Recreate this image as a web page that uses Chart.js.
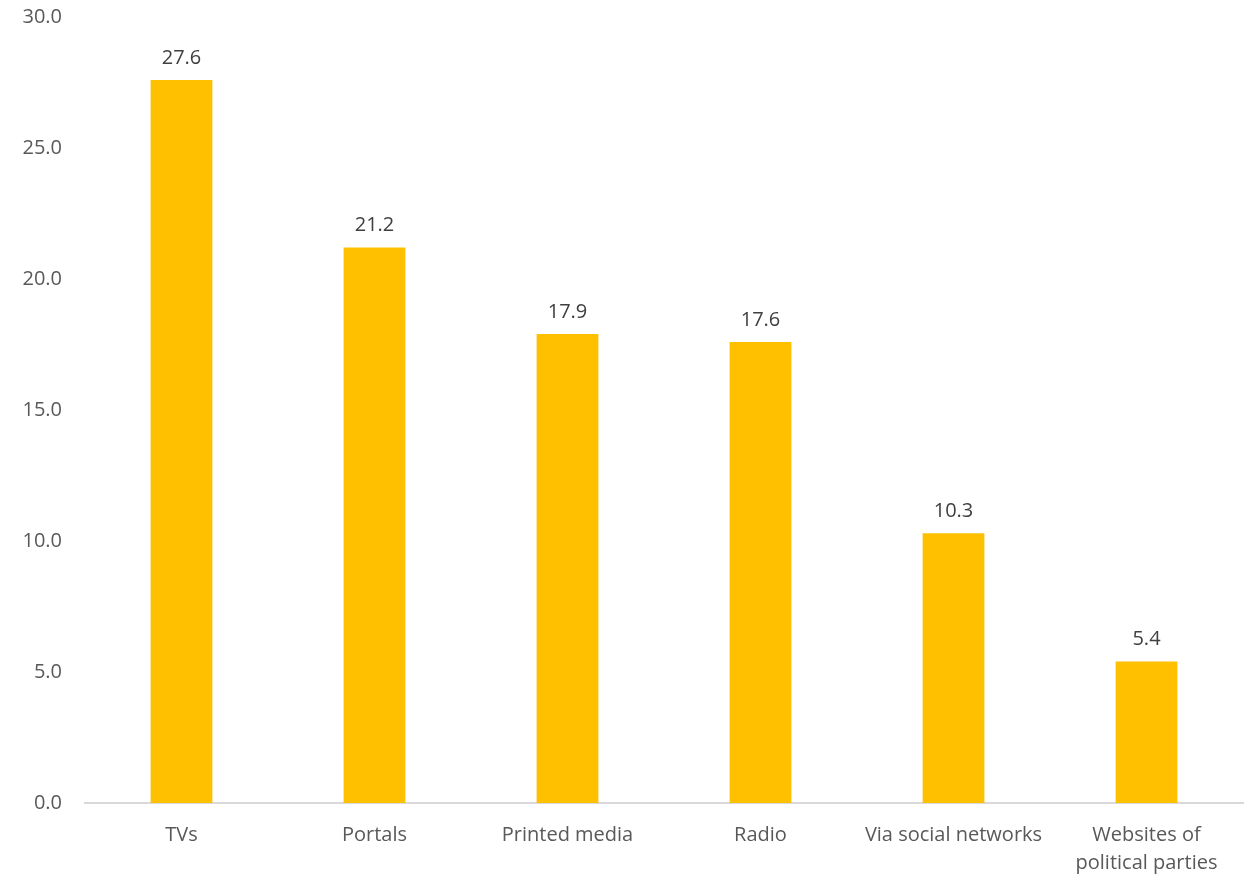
<!DOCTYPE html>
<html>
<head>
<meta charset="utf-8">
<script src="https://cdn.jsdelivr.net/npm/chart.js@4/dist/chart.umd.min.js"></script>
<style>
    html, body { margin: 0; padding: 0; background: #fff; }
    #wrap { width: 1258px; height: 878px; }
</style>
</head>
<body>
<div id="wrap"><canvas id="sources-chart" width="1258" height="878"></canvas></div>
<script>
const categories = ['TVs', 'Portals', 'Printed media', 'Radio', 'Via social networks', ['Websites of', 'political parties']];
const shares     = [27.6, 21.2, 17.9, 17.6, 10.3, 5.4];
const yTicks     = [0, 5, 10, 15, 20, 25, 30];

const fontFamily = "'Open Sans', Lato, sans-serif";

// draws the value above each bar
const valueLabels = {
    id: 'valueLabels',
    afterDatasetsDraw(chart) {
        const { ctx } = chart;
        const meta = chart.getDatasetMeta(0);
        ctx.save();
        ctx.font = `20px ${fontFamily}`;
        ctx.fillStyle = '#404040';
        ctx.textAlign = 'center';
        ctx.textBaseline = 'middle';
        meta.data.forEach((bar, i) => {
            ctx.fillText(shares[i].toFixed(1), bar.x, bar.y - 22);
        });
        ctx.restore();
    },
};

new Chart(document.getElementById('sources-chart').getContext('2d'), {
    type: 'bar',
    data: {
        labels: categories,
        datasets: [{
            data: shares,
            backgroundColor: '#FFC000',
            barPercentage: 0.32,
            categoryPercentage: 1,
        }],
    },
    options: {
        responsive: false,
        animation: false,
        layout: { padding: { top: 17, right: 15, left: 0, bottom: 0 } },
        plugins: { legend: { display: false }, tooltip: { enabled: false } },
        scales: {
            x: {
                grid: { display: false, drawTicks: false },
                border: { display: true, color: '#D9D9D9', width: 2 },
                ticks: {
                    color: '#595959',
                    font: { family: fontFamily, size: 20, lineHeight: 1.4 },
                    padding: 18,
                    maxRotation: 0,
                    autoSkip: false,
                },
                afterFit(scale) { scale.height = 75; },
            },
            y: {
                min: 0,
                max: 30,
                afterBuildTicks(scale) { scale.ticks = yTicks.map(v => ({ value: v })); },
                grid: { display: false, drawTicks: false },
                border: { display: false },
                ticks: {
                    color: '#595959',
                    font: { family: fontFamily, size: 20 },
                    padding: 23,
                    callback: v => v.toFixed(1),
                },
                afterFit(scale) {
                    scale.width = 85;
                    scale.paddingTop = 0;
                },
            },
        },
    },
    plugins: [valueLabels],
});
</script>
</body>
</html>
